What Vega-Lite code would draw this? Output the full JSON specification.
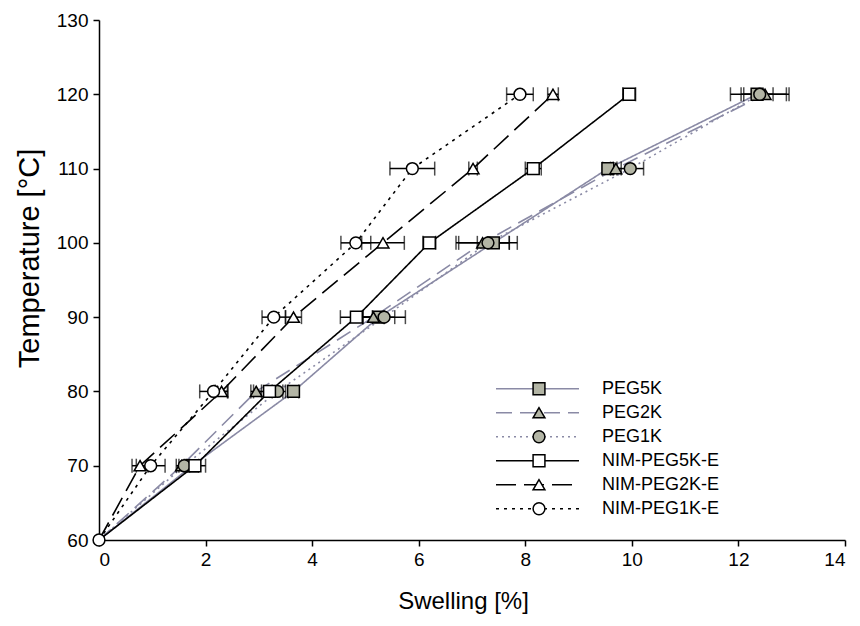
{
  "$schema": "https://vega.github.io/schema/vega-lite/v6.json",
  "width": 746,
  "height": 520,
  "autosize": {"type": "none"},
  "padding": {"left": 99, "top": 20, "right": 15, "bottom": 86},
  "background": "white",
  "config": {
    "view": {"stroke": null},
    "font": "Liberation Sans",
    "axis": {
      "domainColor": "black", "domainWidth": 1.5,
      "tickColor": "black", "tickWidth": 1.5, "tickSize": 6,
      "labelColor": "black", "labelFontSize": 19, "labelFont": "Liberation Sans",
      "titleColor": "black", "titleFontWeight": "normal", "titleFont": "Liberation Sans",
      "grid": false
    }
  },
  "data": {"values": [
    {"series": "PEG5K", "marker": "filled square", "swelling": 0, "temp": 60, "err": 0},
    {"series": "PEG5K", "marker": "filled square", "swelling": 1.75, "temp": 70, "err": 0.12},
    {"series": "PEG5K", "marker": "filled square", "swelling": 3.65, "temp": 80, "err": 0.1},
    {"series": "PEG5K", "marker": "filled square", "swelling": 5.25, "temp": 90, "err": 0.3},
    {"series": "PEG5K", "marker": "filled square", "swelling": 7.4, "temp": 100, "err": 0.3},
    {"series": "PEG5K", "marker": "filled square", "swelling": 9.55, "temp": 110, "err": 0.1},
    {"series": "PEG5K", "marker": "filled square", "swelling": 12.35, "temp": 120, "err": 0.3},
    {"series": "PEG2K", "marker": "filled triangle", "swelling": 0, "temp": 60, "err": 0},
    {"series": "PEG2K", "marker": "filled triangle", "swelling": 1.55, "temp": 70, "err": 0.1},
    {"series": "PEG2K", "marker": "filled triangle", "swelling": 2.95, "temp": 80, "err": 0.1},
    {"series": "PEG2K", "marker": "filled triangle", "swelling": 5.15, "temp": 90, "err": 0.2},
    {"series": "PEG2K", "marker": "filled triangle", "swelling": 7.2, "temp": 100, "err": 0.5},
    {"series": "PEG2K", "marker": "filled triangle", "swelling": 9.7, "temp": 110, "err": 0.1},
    {"series": "PEG2K", "marker": "filled triangle", "swelling": 12.5, "temp": 120, "err": 0.4},
    {"series": "PEG1K", "marker": "filled circle", "swelling": 0, "temp": 60, "err": 0},
    {"series": "PEG1K", "marker": "filled circle", "swelling": 1.6, "temp": 70, "err": 0.1},
    {"series": "PEG1K", "marker": "filled circle", "swelling": 3.35, "temp": 80, "err": 0.1},
    {"series": "PEG1K", "marker": "filled circle", "swelling": 5.35, "temp": 90, "err": 0.4},
    {"series": "PEG1K", "marker": "filled circle", "swelling": 7.3, "temp": 100, "err": 0.55},
    {"series": "PEG1K", "marker": "filled circle", "swelling": 9.97, "temp": 110, "err": 0.25},
    {"series": "PEG1K", "marker": "filled circle", "swelling": 12.4, "temp": 120, "err": 0.55},
    {"series": "NIM-PEG5K-E", "marker": "open square", "swelling": 0, "temp": 60, "err": 0},
    {"series": "NIM-PEG5K-E", "marker": "open square", "swelling": 1.8, "temp": 70, "err": 0.2},
    {"series": "NIM-PEG5K-E", "marker": "open square", "swelling": 3.2, "temp": 80, "err": 0.3},
    {"series": "NIM-PEG5K-E", "marker": "open square", "swelling": 4.83, "temp": 90, "err": 0.3},
    {"series": "NIM-PEG5K-E", "marker": "open square", "swelling": 6.2, "temp": 100, "err": 0.12},
    {"series": "NIM-PEG5K-E", "marker": "open square", "swelling": 8.15, "temp": 110, "err": 0.15},
    {"series": "NIM-PEG5K-E", "marker": "open square", "swelling": 9.95, "temp": 120, "err": 0.12},
    {"series": "NIM-PEG2K-E", "marker": "open triangle", "swelling": 0, "temp": 60, "err": 0},
    {"series": "NIM-PEG2K-E", "marker": "open triangle", "swelling": 0.77, "temp": 70, "err": 0.15},
    {"series": "NIM-PEG2K-E", "marker": "open triangle", "swelling": 2.3, "temp": 80, "err": 0.12},
    {"series": "NIM-PEG2K-E", "marker": "open triangle", "swelling": 3.65, "temp": 90, "err": 0.15},
    {"series": "NIM-PEG2K-E", "marker": "open triangle", "swelling": 5.33, "temp": 100, "err": 0.4},
    {"series": "NIM-PEG2K-E", "marker": "open triangle", "swelling": 7.02, "temp": 110, "err": 0.08},
    {"series": "NIM-PEG2K-E", "marker": "open triangle", "swelling": 8.52, "temp": 120, "err": 0.1},
    {"series": "NIM-PEG1K-E", "marker": "open circle", "swelling": 0, "temp": 60, "err": 0},
    {"series": "NIM-PEG1K-E", "marker": "open circle", "swelling": 0.97, "temp": 70, "err": 0.27},
    {"series": "NIM-PEG1K-E", "marker": "open circle", "swelling": 2.15, "temp": 80, "err": 0.26},
    {"series": "NIM-PEG1K-E", "marker": "open circle", "swelling": 3.28, "temp": 90, "err": 0.22},
    {"series": "NIM-PEG1K-E", "marker": "open circle", "swelling": 4.82, "temp": 100, "err": 0.28},
    {"series": "NIM-PEG1K-E", "marker": "open circle", "swelling": 5.88, "temp": 110, "err": 0.42},
    {"series": "NIM-PEG1K-E", "marker": "open circle", "swelling": 7.9, "temp": 120, "err": 0.25}
  ]},
  "encoding": {
    "x": {"field": "swelling", "type": "quantitative",
      "scale": {"domain": [0, 14], "nice": false},
      "axis": {"title": "Swelling [%]", "titleFontSize": 24, "titleX": 364, "values": [0, 2, 4, 6, 8, 10, 12, 14], "labelPadding": 4, "titlePadding": 20}},
    "y": {"field": "temp", "type": "quantitative",
      "scale": {"domain": [60, 130], "nice": false, "zero": false},
      "axis": {"title": "Temperature [°C]", "titleFontSize": 29, "titleY": 238, "values": [60, 70, 80, 90, 100, 110, 120, 130], "labelPadding": 5, "titlePadding": 12}}
  },
  "layer": [
    {
      "mark": {"type": "line", "strokeWidth": 1.6},
      "encoding": {
        "color": {"field": "series", "type": "nominal",
          "scale": {"domain": ["PEG5K", "PEG2K", "PEG1K", "NIM-PEG5K-E", "NIM-PEG2K-E", "NIM-PEG1K-E"],
                    "range": ["#8a8aa5", "#8a8aa5", "#8a8aa5", "black", "black", "black"]},
          "legend": {"orient": "none", "legendX": 396, "legendY": 357, "title": null, "symbolType": "stroke", "symbolSize": 6889, "symbolStrokeWidth": 1.6, "labelFontSize": 18, "labelOffset": 22, "clipHeight": 23.5, "rowPadding": 0, "padding": 0, "labelColor": "black", "labelFont": "Liberation Sans"}},
        "strokeDash": {"field": "series", "type": "nominal",
          "scale": {"domain": ["PEG5K", "PEG2K", "PEG1K", "NIM-PEG5K-E", "NIM-PEG2K-E", "NIM-PEG1K-E"],
                    "range": [[1, 0], [16, 8], [2, 4], [1, 0], [20, 8], [3, 5]]},
          "legend": {"orient": "none", "legendX": 396, "legendY": 357, "title": null, "symbolType": "stroke", "symbolSize": 6889, "symbolStrokeWidth": 1.6, "labelFontSize": 18, "labelOffset": 22, "clipHeight": 23.5, "rowPadding": 0, "padding": 0, "labelColor": "black", "labelFont": "Liberation Sans"}},
        "order": {"field": "temp", "type": "quantitative"}
      }
    },
    {
      "transform": [{"filter": "datum.err > 0"}],
      "mark": {"type": "errorbar", "ticks": {"size": 14, "thickness": 1.5, "color": "black"}, "rule": {"strokeWidth": 1.5, "color": "black"}},
      "encoding": {
        "xError": {"field": "err"},
        "detail": {"field": "series", "type": "nominal"}
      }
    },
    {
      "transform": [{"filter": "datum.temp > 60 || datum.series == 'NIM-PEG1K-E'"}],
      "mark": {"type": "point", "filled": true, "size": 140, "stroke": "black", "strokeWidth": 1.5, "opacity": 1},
      "encoding": {
        "shape": {"field": "marker", "type": "nominal",
          "scale": {"domain": ["filled square", "filled triangle", "filled circle", "open square", "open triangle", "open circle"],
                    "range": ["square", "triangle-up", "circle", "square", "triangle-up", "circle"]},
          "legend": {"orient": "none", "legendX": 431, "legendY": 357, "title": null, "symbolSize": 140, "clipHeight": 23.5, "rowPadding": 0, "padding": 0, "labelExpr": "''", "labelFontSize": 18, "zindex": 1,
            "encode": {"symbols": {"update": {"stroke": {"value": "black"}, "strokeWidth": {"value": 1.5}}}}}},
        "fill": {"field": "marker", "type": "nominal",
          "scale": {"domain": ["filled square", "filled triangle", "filled circle", "open square", "open triangle", "open circle"],
                    "range": ["#b3b5a5", "#b3b5a5", "#b3b5a5", "white", "white", "white"]},
          "legend": {"orient": "none", "legendX": 431, "legendY": 357, "title": null, "symbolSize": 140, "clipHeight": 23.5, "rowPadding": 0, "padding": 0, "labelExpr": "''", "labelFontSize": 18, "zindex": 1,
            "encode": {"symbols": {"update": {"stroke": {"value": "black"}, "strokeWidth": {"value": 1.5}}}}}}
      }
    }
  ]
}
